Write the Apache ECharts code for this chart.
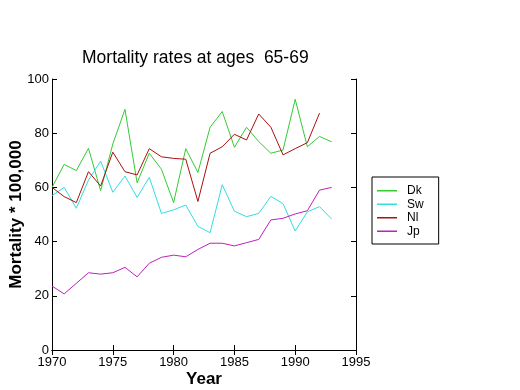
<!DOCTYPE html>
<html>
<head>
<meta charset="utf-8">
<script src="https://cdn.jsdelivr.net/npm/echarts@6/dist/echarts.min.js"></script>
<style>html,body{margin:0;padding:0;background:#fff;}#c{width:520px;height:390px;}</style>
</head>
<body>
<div id="c"></div>
<script>
var years = [1970,1971,1972,1973,1974,1975,1976,1977,1978,1979,1980,1981,1982,1983,1984,1985,1986,1987,1988,1989,1990,1991,1992,1993];
var dk = [60,68.5,66.2,74.4,58.8,76,88.8,61.7,72.6,66.7,54.4,74.3,65.5,82.2,88,74.8,82.2,76.9,72.6,73.8,92.5,75,78.8,76.8];
var sw = [57,60,52.3,62.7,69.7,58.2,64.2,56.3,63.7,50.4,51.7,53.5,45.6,43.3,61,51.2,49.2,50.4,56.7,54,43.9,51,52.9,48.3];
var nl = [60,56.6,54.4,65.8,60.5,73,65.8,64.6,74.3,71.3,70.7,70.4,54.8,72.6,75,79.6,77.5,87.1,82.2,72,74.3,76.5,87.4];
var jp = [23.6,20.7,24.6,28.5,28,28.5,30.5,27,32,34.2,35,34.4,37.1,39.4,39.4,38.4,39.6,40.8,48,48.6,50.2,51.4,59,60];
var names = ['Dk','Sw','Nl','Jp'];
var colors = ['#33cc33','#33dddd','#aa1111','#bb22bb'];

function pairs(vals){ return vals.map(function(v,i){ return [years[i], v]; }); }
var seriesVals = [dk, sw, nl, jp];

var font = 'Liberation Sans, Arial, sans-serif';
function axisCommon(){ return {
  axisLine:{show:true, lineStyle:{color:'#000', width:1}},
  axisTick:{show:true, inside:true, length:5, lineStyle:{color:'#000'}},
  splitLine:{show:false}
};}
var chart = echarts.init(document.getElementById('c'), null, {renderer:'canvas'});
chart.setOption({
  animation:false,
  backgroundColor:'#fff',
  title:{text:'Mortality rates at ages  65-69', left:77, top:44,
    textStyle:{fontFamily:font, fontSize:17.5, fontWeight:'normal', color:'#000'}},
  grid:{left:52, right:164, top:79, bottom:40, outerBoundsMode:'none', containLabel:false},
  legend:{
    orient:'vertical', left:372, top:177,
    data:names.map(function(n){ return {name:n, icon:'rect'}; }),
    itemWidth:20, itemHeight:1.5, itemGap:0,
    borderColor:'#000', borderWidth:1, padding:[7,15,6,5],
    textStyle:{fontFamily:font, fontSize:12, color:'#000', lineHeight:13.5, padding:[0,0,0,5]}
  },
  xAxis:[
    Object.assign({type:'value', min:1970, max:1995, interval:5, position:'bottom',
      name:'Year', nameLocation:'middle', nameGap:21, nameMoveOverlap:false,
      nameTextStyle:{fontFamily:font, fontSize:17, fontWeight:'bold', color:'#000'},
      axisLabel:{fontFamily:font, fontSize:13, color:'#000', margin:6,
        formatter:function(v){ return String(v); }}
    }, axisCommon()),
    Object.assign({type:'value', min:1970, max:1995, interval:5, position:'top',
      axisLabel:{show:false}}, axisCommon())
  ],
  yAxis:[
    Object.assign({type:'value', min:0, max:100, interval:20, position:'left',
      name:'Mortality * 100,000', nameLocation:'middle', nameGap:27, nameRotate:90, nameMoveOverlap:false,
      nameTextStyle:{fontFamily:font, fontSize:17, fontWeight:'bold', color:'#000'},
      axisLabel:{fontFamily:font, fontSize:13, color:'#000', margin:3,
        formatter:function(v){ return String(v); }}
    }, axisCommon()),
    Object.assign({type:'value', min:0, max:100, interval:20, position:'right',
      axisLabel:{show:false}}, axisCommon())
  ],
  series: seriesVals.map(function(vals, i){
    return {name:names[i], type:'line', data:pairs(vals), symbol:'none',
      xAxisIndex:0, yAxisIndex:0,
      lineStyle:{color:colors[i], width:1}, itemStyle:{color:colors[i]}};
  })
});
</script>
</body>
</html>
